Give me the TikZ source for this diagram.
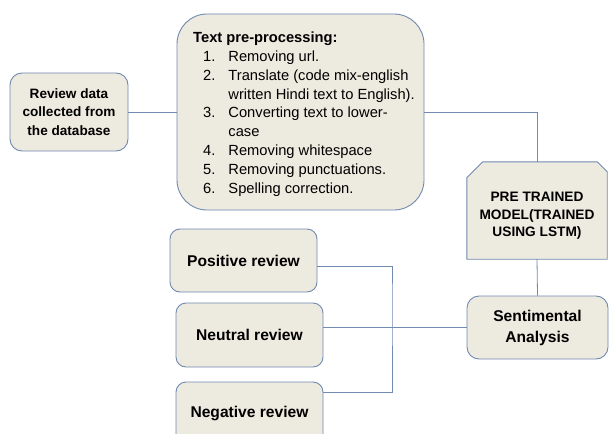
\documentclass[tikz,border=0pt]{standalone}
\usepackage{fontspec}
\setmainfont{Liberation Sans}
\definecolor{boxfill}{RGB}{237,234,223}
\definecolor{boxedge}{RGB}{112,137,176}
\definecolor{wirecol}{RGB}{112,138,178}

\begin{document}
\begin{tikzpicture}[x=1pt,y=-1pt,
  box/.style={draw=boxedge, fill=boxfill, line width=0.9pt,
    rounded corners=#1, inner sep=0pt, align=center,
    font=\fontsize{15.6}{21}\selectfont\bfseries},
  box/.default=10pt,
  smallbold/.style={font=\fontsize{13.6}{18.5}\selectfont\bfseries},
  wire/.style={draw=wirecol, line width=0.8pt}]
\useasboundingbox (0,0) rectangle (609,433);
\clip (0,0) rectangle (609,433);

% source of the data
\node[box=12pt, smallbold, minimum width=118pt, minimum height=78pt] (review) at (69,112)
  {Review data\\collected from\\the database};

% pre-processing steps
\node[box=30pt, minimum width=247pt, minimum height=196pt] (tp) at (300.5,112) {};
\node[anchor=base west, inner sep=0pt, font=\fontsize{14.7}{18.75}\selectfont] (tptext) at (193,43)
  {\begin{tabular}[t]{@{\hspace{10pt}}r@{\hspace{13pt}}l@{}}
  \multicolumn{2}{@{}l@{}}{\textbf{Text pre-processing:}}\\
  1. & Removing url.\\
  2. & Translate (code mix-english\\
     & written Hindi text to English).\\
  3. & Converting text to lower-\\
     & case\\
  4. & Removing whitespace\\
  5. & Removing punctuations.\\
  6. & Spelling correction.
  \end{tabular}};

% trained model, with its two upper corners cut off
\node[inner sep=0pt, minimum width=140pt, minimum height=97pt] (pre) at (537,210.5) {};
\draw[draw=boxedge, fill=boxfill, line width=0.9pt]
  (pre.south west) -- ([yshift=-16pt]pre.north west) -- ([xshift=16pt]pre.north west)
  -- ([xshift=-10pt]pre.north east) -- ([yshift=-10pt]pre.north east)
  -- (pre.south east) -- cycle;
\node[inner sep=0pt, align=center, font=\fontsize{13.7}{17.5}\selectfont\bfseries]
  (pretext) at (537,216) {PRE TRAINED\\MODEL(TRAINED\\USING LSTM)};

% analysis and its outcomes
\node[box=12pt, minimum width=141pt, minimum height=63pt] (sent) at (537.5,327.5)
  {Sentimental\\Analysis};
\node[box, minimum width=147pt, minimum height=63pt] (pos) at (243.5,260.5) {Positive review};
\node[box, minimum width=147pt, minimum height=64pt] (neu) at (249.5,335) {Neutral review};
\node[box, minimum width=147pt, minimum height=62pt] (neg) at (249.5,413) {Negative review};

% connectors
\draw[wire] (review.east) -- (tp.west);
\draw[wire] (tp.east) -| (pre.north);
\draw[wire] (pre.south) -- (sent.north);
\draw[wire] (sent.west -| neu.east) -- (sent.west);
\coordinate (bus) at (392,300);
\draw[wire] ([yshift=-5.5pt]pos.east) -| (bus) |- ([yshift=-11pt]neg.north east);
\end{tikzpicture}
\end{document}
